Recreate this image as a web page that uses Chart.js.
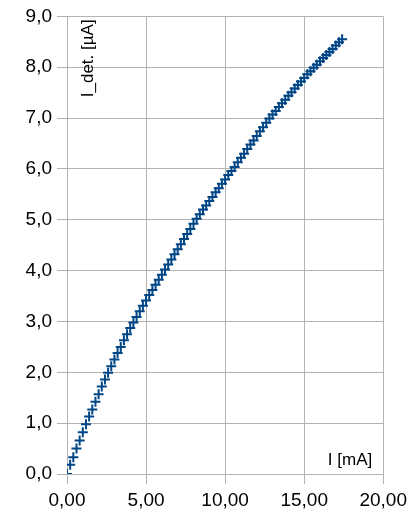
<!DOCTYPE html>
<html>
<head>
<meta charset="utf-8">
<script src="https://cdn.jsdelivr.net/npm/chart.js@4.4.0/dist/chart.umd.min.js"></script>
<style>
  html, body { margin: 0; padding: 0; background: #ffffff; }
  #box { width: 412px; height: 517px; }
</style>
</head>
<body>
<div id="box"><canvas id="myChart"></canvas></div>
<script>
// corrente I [mA]
var current = [
  0.0, 0.2, 0.4, 0.6, 0.8, 1.0, 1.2, 1.4, 1.6, 1.8,
  2.0, 2.2, 2.4, 2.6, 2.8, 3.0, 3.2, 3.4, 3.6, 3.8,
  4.0, 4.2, 4.4, 4.6, 4.8, 5.0, 5.2, 5.4, 5.6, 5.8,
  6.0, 6.2, 6.4, 6.6, 6.8, 7.0, 7.2, 7.4, 7.6, 7.8,
  8.0, 8.2, 8.4, 8.6, 8.8, 9.0, 9.2, 9.4, 9.6, 9.8,
  10.0, 10.2, 10.4, 10.6, 10.8, 11.0, 11.2, 11.4, 11.6, 11.8,
  12.0, 12.2, 12.4, 12.6, 12.8, 13.0, 13.2, 13.4, 13.6, 13.8,
  14.0, 14.2, 14.4, 14.6, 14.8, 15.0, 15.2, 15.4, 15.6, 15.8,
  16.0, 16.2, 16.4, 16.6, 16.8, 17.0, 17.2, 17.4
];

// corrente rivelata I_det [uA]
var detected = [
  0.00, 0.18, 0.33, 0.50, 0.66, 0.82, 0.98, 1.13, 1.27, 1.42,
  1.57, 1.72, 1.86, 1.99, 2.12, 2.25, 2.38, 2.50, 2.63, 2.75,
  2.87, 2.98, 3.09, 3.20, 3.31, 3.41, 3.52, 3.62, 3.72, 3.82,
  3.92, 4.02, 4.12, 4.22, 4.32, 4.42, 4.52, 4.62, 4.72, 4.82,
  4.92, 5.02, 5.11, 5.20, 5.28, 5.37, 5.45, 5.54, 5.62, 5.71,
  5.79, 5.88, 5.96, 6.04, 6.13, 6.22, 6.30, 6.39, 6.48, 6.56,
  6.65, 6.74, 6.82, 6.91, 6.99, 7.07, 7.14, 7.22, 7.29, 7.36,
  7.44, 7.51, 7.58, 7.65, 7.72, 7.79, 7.86, 7.92, 7.99, 8.05,
  8.12, 8.18, 8.24, 8.30, 8.36, 8.43, 8.49, 8.55
];

var xTitle = "I [mA]";
var yTitle = "I_det. [µA]";

var FONT = "'Liberation Sans', Arial, sans-serif";
var GRID = "#b3b3b3";

function buildPoints() {
  var pts = [];
  for (var i = 0; i < current.length; i++) {
    pts.push({ x: current[i], y: detected[i] });
  }
  return pts;
}

// titoli degli assi disegnati dentro l'area del grafico
var innerTitles = {
  id: "innerTitles",
  afterDraw: function(chart) {
    var ctx = chart.ctx;
    var area = chart.chartArea;
    ctx.save();
    ctx.fillStyle = "#000000";
    ctx.font = "17px " + FONT;
    ctx.textAlign = "right";
    ctx.textBaseline = "alphabetic";
    ctx.fillText(xTitle, area.right - 11, area.bottom - 9);

    ctx.translate(area.left + 26, area.top + 3);
    ctx.rotate(-Math.PI / 2);
    ctx.fillText(yTitle, 0, 0);
    ctx.restore();
  }
};

function comma(v, d) {
  return Number(v).toFixed(d).replace(".", ",");
}

function init() {
  var ctx = document.getElementById("myChart").getContext("2d");
  var chart = new Chart(ctx, {
    type: "scatter",
    data: {
      datasets: [{
        label: yTitle,
        data: buildPoints(),
        showLine: false,
        pointStyle: "cross",
        pointRadius: 5,
        pointHoverRadius: 5,
        borderWidth: 2,
        borderColor: "#004586",
        backgroundColor: "#004586"
      }]
    },
    options: {
      responsive: true,
      maintainAspectRatio: false,
      animation: false,
      layout: { padding: { left: 0, top: 15, right: 28, bottom: 0 } },
      plugins: {
        legend: { display: false },
        tooltip: { enabled: false }
      },
      scales: {
        x: {
          type: "linear",
          min: 0,
          max: 20,
          afterFit: function(scale) { scale.height = 43; },
          ticks: {
            stepSize: 5,
            color: "#000000",
            padding: 5,
            font: { family: FONT, size: 19 },
            callback: function(v) { return comma(v, 2); }
          },
          grid: { color: GRID, lineWidth: 1, tickLength: 10 },
          border: { color: GRID, width: 1 }
        },
        y: {
          type: "linear",
          min: 0,
          max: 9,
          afterFit: function(scale) { scale.width = 67; },
          ticks: {
            stepSize: 1,
            color: "#000000",
            padding: 5,
            font: { family: FONT, size: 19 },
            callback: function(v) { return comma(v, 1); }
          },
          grid: { color: GRID, lineWidth: 1, tickLength: 10 },
          border: { color: GRID, width: 1 }
        }
      }
    },
    plugins: [innerTitles]
  });
}

init();
</script>
</body>
</html>
